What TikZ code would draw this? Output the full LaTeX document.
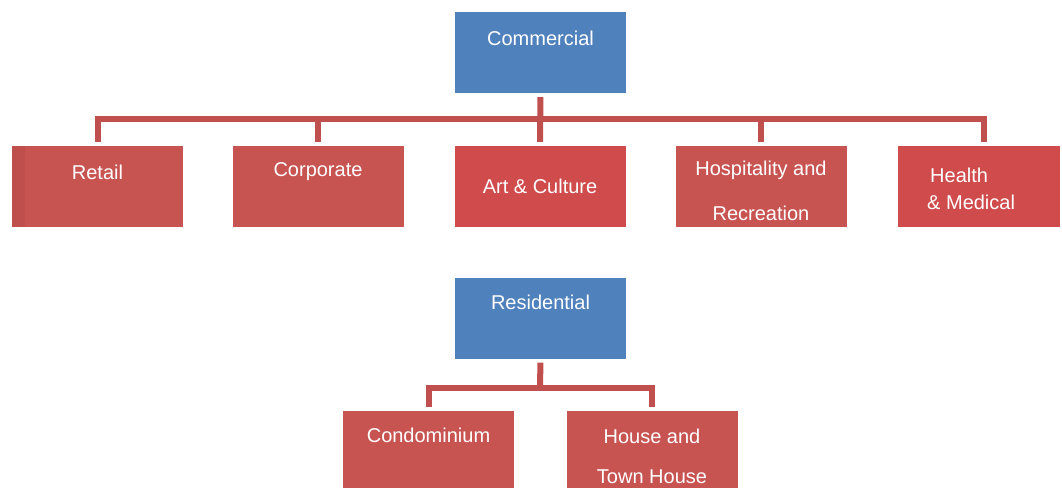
\documentclass[tikz,border=0pt]{standalone}
\usepackage{fontspec}
\setmainfont{Liberation Sans}
\definecolor{boxblue}{HTML}{4F81BD}
\definecolor{boxred}{HTML}{C85452}
\definecolor{boxredb}{HTML}{D04B4B}
\definecolor{connred}{HTML}{C0504D}
\tikzset{
  catbox/.style={draw=none, fill=boxblue, minimum width=171pt, minimum height=81pt, inner sep=0pt},
  subbox/.style={draw=none, fill=boxred, minimum width=171pt, minimum height=81pt, inner sep=0pt},
  lbl/.style={text=white, font=\fontsize{20}{20}\selectfont, inner sep=0pt},
  conn/.style={draw=connred, line width=6pt},
}
\begin{document}
\begin{tikzpicture}[x=1pt,y=-1pt]
\useasboundingbox (0,0) rectangle (1062,487);
\fill[white] (0,0) rectangle (1062,487);
% Commercial
\node[catbox] (com) at (540.5,52.5) {};
\node[lbl] (comt) at (540.5,38) {Commercial};
\node[subbox] (retail) at (97.5,186.5) {};
\fill[connred!90!black,opacity=0.35] (retail.north west) rectangle ([xshift=13pt]retail.south west);
\node[subbox] (corp) at (318,186.5) {};
\node[subbox, fill=boxredb] (art) at (540,186.5) {};
\node[subbox] (hosp) at (761,186.5) {};
\node[subbox, fill=boxredb, minimum width=162pt] (health) at (979,186.5) {};
\node[lbl] (retailt) at (97.5,172) {Retail};
\node[lbl] (corpt) at (318,172) {Corporate};
\node[lbl] (artt) at (540,186) {Art \& Culture};
\node[lbl] (hospt1) at (761,170) {Hospitality and};
\node[lbl] (hospt2) at (761,213) {Recreation};
\node[lbl, anchor=west] (healtht1) at (930,175) {Health};
\node[lbl, anchor=west] (healtht2) at (927,202) {\& Medical};
\coordinate (cbar) at (540,119);
\draw[conn, shorten <=4pt, shorten >=4pt] (com.south) -- (art.north);
\draw[conn, line cap=rect] ([xshift=0.5pt]retail.north |- cbar) -- ([xshift=5pt]health.north |- cbar);
\foreach \n/\dx in {retail/0.5, corp/0, hosp/0, health/5}
  \draw[conn, shorten >=4pt] ([xshift=\dx pt]\n.north |- cbar) -- ([xshift=\dx pt]\n.north);
% Residential
\node[catbox] (res) at (540.5,318) {};
\node[lbl] (rest) at (540.5,302) {Residential};
\node[subbox, minimum height=90pt] (condo) at (428.5,456) {};
\node[subbox, minimum height=90pt] (house) at (652,456) {};
\node[lbl] (condot) at (428.5,435) {Condominium};
\node[lbl] (houset1) at (652,436) {House and};
\node[lbl] (houset2) at (652,477) {Town House};
\coordinate (rbar) at (540,388);
\draw[conn, shorten <=4pt] (res.south) -- (rbar);
\draw[conn, line cap=rect] (condo.north |- rbar) -- (house.north |- rbar);
\draw[conn, shorten >=4pt] (condo.north |- rbar) -- (condo.north);
\draw[conn, shorten >=4pt] (house.north |- rbar) -- (house.north);
\end{tikzpicture}
\end{document}
